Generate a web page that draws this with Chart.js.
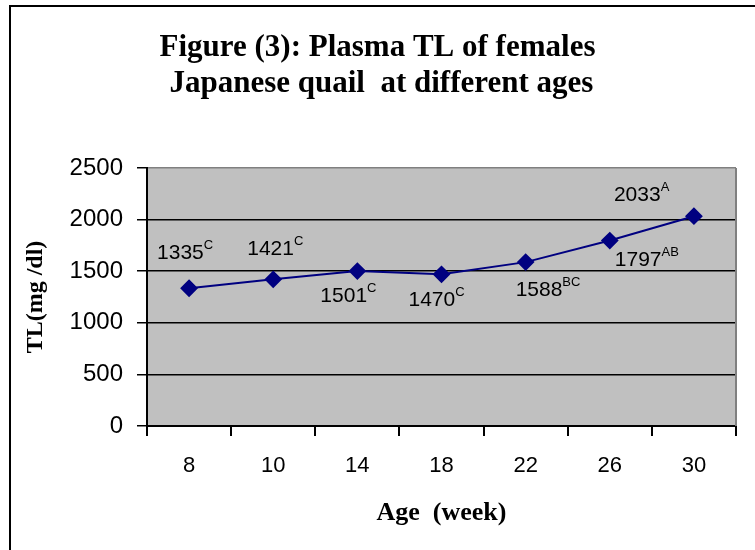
<!DOCTYPE html>
<html>
<head>
<meta charset="utf-8">
<script src="https://cdn.jsdelivr.net/npm/chart.js@4/dist/chart.umd.min.js"></script>
<style>
    html, body { margin: 0; padding: 0; background: #ffffff; }
    #wrap { width: 755px; height: 550px; }
</style>
</head>
<body>
<div id="wrap"><canvas id="chart" width="755" height="550"></canvas></div>
<script>
// data
var ages = ['8', '10', '14', '18', '22', '26', '30'];
var tlValues = [1335, 1421, 1501, 1470, 1588, 1797, 2033];
var tlLetters = ['C', 'C', 'C', 'C', 'BC', 'AB', 'A'];
var yTicks = [0, 500, 1000, 1500, 2000, 2500];

// where each value label sits relative to its point (left edge of text, vertical centre)
var labelDx = [-32, -26, -37, -33, -10, 5, -80];
var labelDy = [-35, -30, 25, 26, 28, 20, -21];

const plotBackground = {
    id: 'plotBackground',
    beforeDraw(chart) {
        let ctx = chart.ctx;
        let a = chart.chartArea;
        ctx.save();
        ctx.fillStyle = '#ffffff';
        ctx.fillRect(0, 0, chart.width, chart.height);
        // outer frame, runs off the right and bottom edges
        ctx.strokeStyle = '#000000';
        ctx.lineWidth = 2;
        ctx.strokeRect(10, 6, chart.width + 20, chart.height + 20);
        ctx.fillStyle = '#c0c0c0';
        ctx.fillRect(a.left, a.top, a.right - a.left, a.bottom - a.top);
        ctx.restore();
    },
    afterDraw(chart) {
        let ctx = chart.ctx;
        let a = chart.chartArea;
        ctx.save();
        ctx.strokeStyle = '#808080';
        ctx.lineWidth = 2;
        ctx.beginPath();
        ctx.moveTo(a.right, a.top);
        ctx.lineTo(a.right, a.bottom);
        ctx.stroke();
        ctx.restore();
    }
};

const valueLabels = {
    id: 'valueLabels',
    afterDatasetsDraw(chart) {
        let ctx = chart.ctx;
        let meta = chart.getDatasetMeta(0);
        ctx.save();
        ctx.fillStyle = '#000000';
        ctx.textBaseline = 'middle';
        ctx.textAlign = 'left';
        for (let i = 0; i < meta.data.length; i++) {
            let pt = meta.data[i];
            let x = pt.x + labelDx[i];
            let y = pt.y + labelDy[i];
            let txt = String(tlValues[i]);
            ctx.font = '21px "Liberation Sans", Arial, sans-serif';
            ctx.fillText(txt, x, y);
            let w = ctx.measureText(txt).width;
            ctx.font = '13px "Liberation Sans", Arial, sans-serif';
            ctx.fillText(tlLetters[i], x + w, y - 8);
        }
        ctx.restore();
    }
};

const config = {
    type: 'line',
    data: {
        labels: ages,
        datasets: [
            {
                data: tlValues,
                borderColor: '#000080',
                backgroundColor: '#000080',
                borderWidth: 2,
                pointStyle: 'rectRot',
                pointRadius: 7.5,
                pointHoverRadius: 7.5,
                tension: 0
            }
        ]
    },
    options: {
        responsive: false,
        animation: false,
        layout: {
            padding: { left: 19, right: 19, top: 0, bottom: 0 }
        },
        scales: {
            x: {
                offset: true,
                afterFit: function (scale) { scale.height = 124; },
                grid: {
                    offset: true,
                    drawOnChartArea: false,
                    drawTicks: true,
                    tickLength: 10,
                    color: '#000000',
                    lineWidth: 2
                },
                border: { color: '#000000', width: 2 },
                ticks: {
                    padding: 17,
                    color: '#000000',
                    font: { family: '"Liberation Sans", Arial, sans-serif', size: 22 }
                },
                title: {
                    display: true,
                    text: 'Age  (week)',
                    color: '#000000',
                    padding: { top: 0, bottom: 21 },
                    font: { family: '"Liberation Serif", "Times New Roman", serif', size: 26, weight: 'bold' }
                }
            },
            y: {
                min: 0,
                max: 2500,
                afterFit: function (scale) { scale.width = 128; },
                afterBuildTicks: function (scale) {
                    scale.ticks = yTicks.map(v => ({ value: v }));
                },
                grid: {
                    color: function (c) { return c.tick && c.tick.value === 2500 ? '#808080' : '#000000'; },
                    lineWidth: 1.5,
                    tickLength: 10,
                    tickColor: '#000000'
                },
                border: { color: '#000000', width: 2 },
                ticks: {
                    padding: 14,
                    color: '#000000',
                    callback: function (v) { return String(v); },
                    font: { family: '"Liberation Sans", Arial, sans-serif', size: 24 }
                },
                title: {
                    display: true,
                    text: 'TL(mg /dl)',
                    color: '#000000',
                    padding: { top: 2, bottom: 0 },
                    font: { family: '"Liberation Serif", "Times New Roman", serif', size: 24, weight: 'bold' }
                }
            }
        },
        plugins: {
            legend: { display: false },
            tooltip: { enabled: false },
            title: {
                display: true,
                text: ['Figure (3): Plasma TL of females', ' Japanese quail  at different ages'],
                color: '#000000',
                padding: { top: 30, bottom: 66 },
                font: { family: '"Liberation Serif", "Times New Roman", serif', size: 31, weight: 'bold', lineHeight: '36px' }
            }
        }
    },
    plugins: [plotBackground, valueLabels]
};

var tlChart = new Chart(document.getElementById('chart'), config);
</script>
</body>
</html>
